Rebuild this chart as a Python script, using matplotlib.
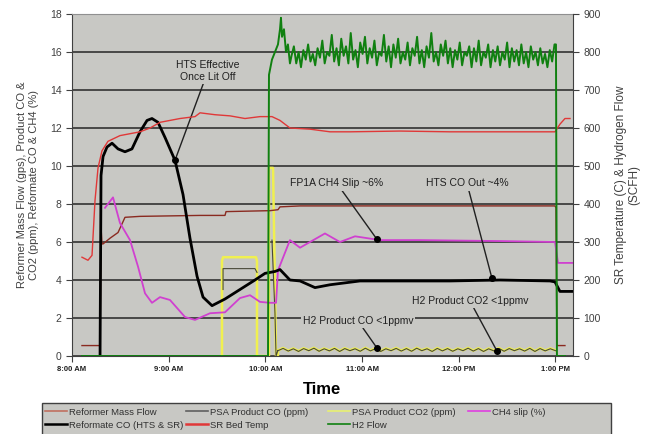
import numpy as np
import matplotlib.pyplot as plt
from matplotlib import rcParams
from matplotlib.patches import Rectangle

rcParams['font.family'] = 'sans-serif'
rcParams['font.sans-serif'] = ['Liberation Sans', 'DejaVu Sans']

# time in decimal hours (8.0 = 8:00 AM)
tick_hours = [8, 9, 10, 11, 12, 13]
tick_labels = ['8:00 AM', '9:00 AM', '10:00 AM', '11:00 AM', '12:00 PM', '1:00 PM']

# Reformate CO (HTS & SR) [%]
ref_co_t = [8.290, 8.300, 8.321, 8.362, 8.414, 8.476, 8.548, 8.620, 8.703, 8.776, 8.827,
            8.889, 8.962, 9.065, 9.148, 9.220, 9.293, 9.355, 9.448, 9.582, 9.737, 9.892,
            9.996, 10.099, 10.151, 10.254, 10.358, 10.513, 10.668, 10.823, 10.978, 11.392,
            11.909, 12.426, 12.943, 12.995, 13.046, 13.181]
ref_co = [0.0, 9.5, 10.5, 11.0, 11.2, 10.9, 10.75, 10.9, 11.8, 12.4, 12.5,
          12.3, 11.5, 10.3, 8.5, 6.2, 4.2, 3.1, 2.65, 3.0, 3.5, 4.0,
          4.35, 4.45, 4.55, 4.0, 3.95, 3.6, 3.75, 3.85, 3.95, 3.95,
          3.95, 4.0, 3.95, 3.9, 3.4, 3.4]

# Reformer Mass Flow [gps]
rmf_t = [8.103, 8.290, 8.300, 8.310, 8.321, 8.393, 8.476, 8.548, 8.703, 9.324, 9.582,
         9.593, 10.048, 10.130, 10.151, 10.358, 12.995, 13.005, 13.015, 13.098]
rmf = [0.55, 0.55, 6.8, 5.9, 5.9, 6.2, 6.5, 7.3, 7.35, 7.4, 7.4,
       7.6, 7.65, 7.7, 7.85, 7.9, 7.9, 7.8, 0.55, 0.55]

# CH4 slip [%]
ch4_t = [8.341, 8.424, 8.496, 8.600, 8.683, 8.755, 8.827, 8.910, 9.013, 9.169, 9.272,
         9.427, 9.582, 9.737, 9.841, 9.944, 10.048, 10.110, 10.130, 10.223, 10.254,
         10.358, 10.461, 10.616, 10.771, 10.927, 11.185, 11.599, 12.426, 12.995,
         13.026, 13.181]
ch4 = [7.8, 8.35, 7.0, 6.1, 4.7, 3.3, 2.8, 3.1, 2.95, 2.05, 1.9,
       2.25, 2.3, 3.05, 3.2, 2.85, 2.8, 2.8, 4.5, 5.7, 6.1,
       5.7, 6.0, 6.45, 6.0, 6.3, 6.1, 6.1, 6.05, 6.0,
       4.9, 4.9]

# PSA Product CO [ppm] (nan = gap in the record)
psa_co_t = [9.562, 9.562, 9.892, 9.913, 9.920, 10.068, 10.099, 10.110, 10.130]
psa_co = [3.5, 4.6, 4.6, 4.4, np.nan, 6.1, 2.25, 0.0, 0.3]

# PSA Product CO2 [ppm]
psa_co2_t = [9.551, 9.551, 9.562, 9.903, 9.913, 9.913, 10.037, 10.037, 10.079, 10.110, 10.130]
psa_co2 = [0.0, 5.0, 5.2, 5.2, 5.0, 0.0, 0.0, 9.9, 9.9, 0.0, 0.0]

# wavy low-level product readings (CO and CO2 < 1 ppmv)
low_ppm = [0.30, 0.42, 0.28, 0.40, 0.26, 0.41, 0.30, 0.43, 0.27, 0.40, 0.29, 0.42,
           0.26, 0.41, 0.30, 0.40, 0.27, 0.43, 0.29, 0.41, 0.26, 0.40, 0.30, 0.42,
           0.28, 0.41, 0.27, 0.43, 0.30, 0.40, 0.26, 0.42, 0.29, 0.41, 0.27, 0.40,
           0.30, 0.43, 0.28, 0.41, 0.26, 0.40, 0.29, 0.42, 0.27, 0.41, 0.30, 0.40,
           0.28, 0.42, 0.26, 0.41, 0.29, 0.40, 0.30]

# SR Bed Temp [C]
temp_t = [8.103, 8.165, 8.207, 8.238, 8.269, 8.310, 8.372, 8.496, 8.703, 8.807, 8.910,
          9.117, 9.272, 9.324, 9.479, 9.634, 9.789, 9.944, 10.068, 10.151, 10.254,
          10.461, 10.668, 10.875, 11.392, 11.909, 12.426, 12.995, 13.046, 13.098, 13.150]
temp = [260, 252, 265, 410, 495, 540, 565, 580, 590, 600, 615,
        625, 630, 640, 635, 632, 625, 630, 630, 620, 600,
        597, 590, 590, 592, 590, 590, 590, 610, 625, 625]

# H2 Flow [SCFH]
h2_start_t = [8.103, 10.027, 10.037, 10.068, 10.099, 10.130, 10.151, 10.161, 10.172,
              10.192, 10.213, 10.233, 10.254]
h2_start = [0, 0, 740, 780, 800, 820, 860, 890, 840, 860, 800, 820, 770]
h2_noise = [790, 815, 770, 800, 760, 805, 780, 820, 775, 795, 765, 810, 785, 830, 770, 800,
            790, 845, 775, 810, 765, 835, 790, 815, 770, 850, 780, 805, 760, 825, 795, 840,
            770, 810, 785, 830, 765, 800, 790, 845, 775, 815, 760, 820, 785, 835, 770, 800,
            780, 825, 765, 810, 790, 840, 770, 805, 760, 815, 785, 850, 775, 800, 765, 820,
            790, 830, 770, 810, 760, 805, 780, 825, 765, 800, 790, 815, 760, 810, 775, 830,
            765, 800, 785, 820, 760, 805, 775, 815, 765, 800, 780, 825, 760, 810, 775, 805,
            765, 820, 770, 800, 760, 815, 780, 800, 765, 810, 770, 795, 760, 805, 775, 820]
h2_end_t = [13.005, 13.015, 13.098]
h2_end = [820, 0, 0]

bg = '#c8c8c4'

fig = plt.figure(figsize=(6.47, 4.34), dpi=100)
ax = fig.add_axes([0.1113, 0.1797, 0.7743, 0.788])
ax.set_facecolor(bg)
ax2 = ax.twinx()

ax.set_xlim(8, 13.181)
ax.set_ylim(0, 18)
ax2.set_ylim(0, 900)

ax.set_yticks(np.arange(0, 19, 2))
ax2.set_yticks(np.arange(0, 901, 100))
ax.yaxis.grid(True, color='#262626', lw=1.1)
ax.set_axisbelow(True)

# low level wavy traces
low_t = np.linspace(10.13, 13.0, len(low_ppm))
ax.plot(psa_co2_t + list(low_t), psa_co2 + low_ppm, color='#f0f050', lw=1.8)
ax.plot(psa_co_t + list(low_t), psa_co + [v - 0.02 for v in low_ppm], color='#4a4a3a', lw=0.8)

ax.plot(rmf_t, rmf, color='#8a2a20', lw=1.0)
ax.plot(ch4_t, ch4, color='#d040d0', lw=1.3)
ax.plot(ref_co_t, ref_co, color='black', lw=2.0)

ax2.plot(temp_t, temp, color='#e03838', lw=1.0)
noise_t = np.linspace(10.27, 12.99, len(h2_noise))
ax2.plot(h2_start_t + list(noise_t) + h2_end_t, h2_start + h2_noise + h2_end,
         color='#108010', lw=1.4)

# annotations
ann_text = ['HTS Effective\nOnce Lit Off', 'FP1A CH4 Slip ~6%', 'HTS CO Out ~4%',
            'H2 Product CO2 <1ppmv', 'H2 Product CO <1ppmv']
ann_text_xy = [(9.406, 15.0), (10.74, 9.08), (12.085, 9.08), (12.116, 2.89), (10.958, 1.84)]
ann_point = [(9.065, 10.3), (11.154, 6.14), (12.343, 4.09), (12.395, 0.26), (11.154, 0.42)]
for txt, txy, pxy in zip(ann_text, ann_text_xy, ann_point):
    ax.annotate(txt, xy=pxy, xytext=txy, ha='center', va='center', fontsize=7.5,
                color='#202020', zorder=6,
                bbox=dict(fc=bg, ec='none', pad=1.5),
                arrowprops=dict(arrowstyle='-', color='#202020', lw=1.0, shrinkA=0, shrinkB=0))
    ax.plot(pxy[0], pxy[1], 'o', color='black', ms=4, zorder=7)

ax.set_xticks(tick_hours)
ax.set_xticklabels(tick_labels, fontsize=5.5, fontweight='bold', color='#202020')
ax.tick_params(axis='y', labelsize=7.5, colors='#404040', length=4, direction='out')
ax2.tick_params(axis='y', labelsize=7.5, colors='#404040', length=4, direction='out')
ax.tick_params(axis='x', length=4, direction='out', color='#404040')

for sp in ['left', 'bottom']:
    ax.spines[sp].set_color('#404040')
ax2.spines['right'].set_color('#404040')
ax.spines['top'].set_color('#909090')
ax2.spines['top'].set_visible(False)
ax.spines['right'].set_visible(False)
ax2.spines['left'].set_visible(False)
ax2.spines['bottom'].set_visible(False)

ax.set_xlabel('Time', fontsize=12, fontweight='bold', labelpad=6)
ax.set_ylabel('Reformer Mass Flow (gps), Product CO &\nCO2 (ppm), Reformate CO & CH4 (%)',
              fontsize=8, color='#404040', labelpad=8)
ax2.set_ylabel('SR Temperature (C) & Hydrogen Flow\n(SCFH)', fontsize=8.5,
               color='#404040', labelpad=10)

# legend box (Excel style, equal-width columns)
fig.patches.append(Rectangle((0.065, -0.01), 0.879, 0.081, transform=fig.transFigure,
                             facecolor=bg, edgecolor='#404040', lw=1.0, zorder=0))

h = {}
h['rmf'], = ax.plot([], [], color='#c07060', lw=1.2)
h['psaco'], = ax.plot([], [], color='#606060', lw=1.2)
h['psaco2'], = ax.plot([], [], color='#e8f070', lw=1.2)
h['ch4'], = ax.plot([], [], color='#e040e0', lw=1.2)
h['refco'], = ax.plot([], [], color='black', lw=1.8)
h['temp'], = ax.plot([], [], color='#e03838', lw=1.8)
h['h2'], = ax.plot([], [], color='#108010', lw=1.2)
legend_cols = [[('rmf', 'Reformer Mass Flow'), ('refco', 'Reformate CO (HTS & SR)')],
               [('psaco', 'PSA Product CO (ppm)'), ('temp', 'SR Bed Temp')],
               [('psaco2', 'PSA Product CO2 (ppm)'), ('h2', 'H2 Flow')],
               [('ch4', 'CH4 slip (%)')]]
col_x = [45, 186, 328, 468]
for cx, col in zip(col_x, legend_cols):
    leg = fig.legend([h[k] for k, _ in col], [l for _, l in col],
                     loc='upper left', bbox_to_anchor=(cx / 647, 0.061),
                     fontsize=6.8, frameon=False, borderpad=0, borderaxespad=0,
                     handlelength=2.3, handletextpad=0.2, labelspacing=0.45)
    for t in leg.get_texts():
        t.set_color('#303030')

fig.savefig('out.png', dpi=100)
